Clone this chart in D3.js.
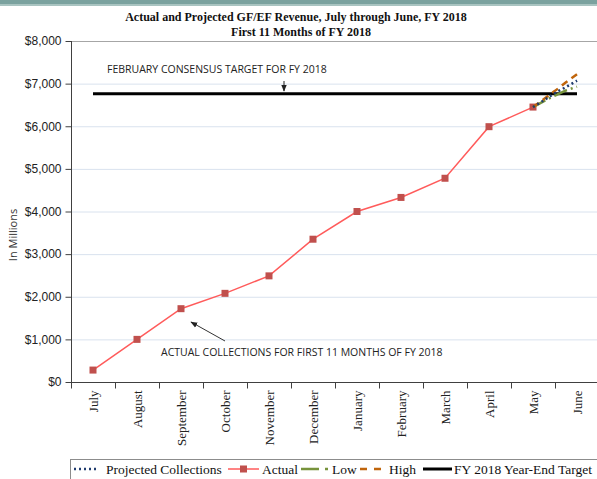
<!DOCTYPE html>
<html>
<head>
<meta charset="utf-8">
<script src="https://cdn.jsdelivr.net/npm/d3@7"></script>
<style>
  body { margin: 0; background: #fff; }
  svg { display: block; }
</style>
</head>
<body>
<svg width="597" height="479"></svg>
<script>
// months of the fiscal year
const months = ["July", "August", "September", "October", "November", "December",
                "January", "February", "March", "April", "May", "June"];

// actual collections, July - May (millions)
const actual = [280, 1000, 1720, 2080, 2490, 3350, 4000, 4330, 4780, 5990, 6450];

// projections from May to June (x as month index)
const projX = [10, 10.25, 10.5, 10.75, 11];
const projected = [6450, 6610, 6780, 6920, 7070];
const low = [6450, 6590, 6720, 6840, 6930];
const high = [6450, 6640, 6830, 7030, 7220];

// year-end target
const target = 6760;

const yTicks = [0, 1000, 2000, 3000, 4000, 5000, 6000, 7000, 8000];

const svg = d3.select("svg");

// top banner
svg.append("rect").attr("x", 0).attr("y", 0).attr("width", 597).attr("height", 4).attr("fill", "#7ba29f");
svg.append("rect").attr("x", 0).attr("y", 4).attr("width", 597).attr("height", 2).attr("fill", "#a9c4c1");

const pLeft = 71, pRight = 599, pTop = 41, pBottom = 382;

const x = d3.scaleBand().domain(months).range([pLeft, pRight]);
const xi = d3.scaleLinear().domain([0, 11]).range([pLeft + x.bandwidth() / 2, pLeft + x.bandwidth() * 11.5]);
const y = d3.scaleLinear().domain([0, 8000]).range([pBottom, pTop]);

// gridlines
svg.append("g")
    .selectAll("line")
    .data(yTicks.slice(1, -1))
  .enter().append("line")
    .attr("x1", pLeft).attr("x2", 597)
    .attr("y1", d => y(d) + 0.5).attr("y2", d => y(d) + 0.5)
    .attr("stroke", "#d9e2ee").attr("stroke-width", 1);

// plot top border
svg.append("line")
    .attr("x1", pLeft).attr("x2", 597)
    .attr("y1", pTop + 0.5).attr("y2", pTop + 0.5)
    .attr("stroke", "#a6a6a6");

// y axis
const yAxis = svg.append("g")
    .attr("transform", `translate(${pLeft + 0.5},0)`)
    .call(d3.axisLeft(y).tickValues(yTicks).tickSize(6).tickPadding(4)
        .tickFormat(d => "$" + d3.format(",")(d)));
yAxis.select(".domain").attr("stroke", "#404040").attr("d", `M0,${pTop}V${pBottom}`);
yAxis.selectAll(".tick line").attr("stroke", "#404040");
yAxis.selectAll("text")
    .attr("font-family", "'Liberation Sans', Arial, sans-serif")
    .attr("font-size", "12px")
    .attr("fill", "#222");

// x axis
const xAxis = svg.append("g")
    .attr("transform", `translate(0,${pBottom + 0.5})`)
    .call(d3.axisBottom(x).tickSize(0).tickPadding(0));
xAxis.select(".domain").attr("stroke", "#404040").attr("d", `M${pLeft},0H597`);
xAxis.selectAll(".tick line").remove();
xAxis.selectAll("text")
    .attr("font-family", "'Liberation Serif', Cambria, serif")
    .attr("font-size", "13px")
    .attr("fill", "#222")
    .attr("text-anchor", "end")
    .attr("dy", "0.35em")
    .attr("transform", "translate(0,8)rotate(-90)");

// tick marks at band boundaries
xAxis.append("g")
    .selectAll("line")
    .data(months)
  .enter().append("line")
    .attr("x1", d => x(d) + 0.5).attr("x2", d => x(d) + 0.5)
    .attr("y1", 0).attr("y2", 6)
    .attr("stroke", "#404040");

// y label
svg.append("text")
    .attr("transform", "translate(17,235)rotate(-90)")
    .attr("text-anchor", "middle")
    .attr("font-family", "'Open Sans', sans-serif")
    .attr("font-size", "11px")
    .attr("fill", "#333")
    .text("In Millions");

// title
const title = svg.append("g")
    .attr("font-family", "'Liberation Serif', Cambria, serif")
    .attr("font-weight", "bold")
    .attr("font-size", "12px")
    .attr("text-anchor", "middle")
    .attr("fill", "#111");
title.append("text").attr("x", 296).attr("y", 21)
    .text("Actual and Projected GF/EF Revenue, July through June, FY 2018");
title.append("text").attr("x", 301).attr("y", 36)
    .text("First 11 Months of FY 2018");

// target line
svg.append("path")
    .datum(months)
    .attr("fill", "none")
    .attr("stroke", "#000")
    .attr("stroke-width", 3)
    .attr("d", d3.line().x((d, i) => xi(i)).y(() => y(target)));

// actual line
svg.append("path")
    .datum(actual)
    .attr("fill", "none")
    .attr("stroke", "#ff5b5b")
    .attr("stroke-width", 1.5)
    .attr("d", d3.line().x((d, i) => xi(i)).y(d => y(d)));

svg.append("g")
    .selectAll("rect")
    .data(actual)
  .enter().append("rect")
    .attr("x", (d, i) => xi(i) - 3.5)
    .attr("y", d => y(d) - 3.5)
    .attr("width", 7).attr("height", 7)
    .attr("fill", "#c0504d");

// projections
const projLine = d3.line().x((d, i) => xi(projX[i])).y(d => y(d));
svg.append("path").datum(low)
    .attr("fill", "none").attr("stroke", "#77933c").attr("stroke-width", 2.5)
    .attr("stroke-dasharray", "14,4,2,4")
    .attr("d", projLine);
svg.append("path").datum(high)
    .attr("fill", "none").attr("stroke", "#c0650c").attr("stroke-width", 2.5)
    .attr("stroke-dasharray", "7,5")
    .attr("d", projLine);
svg.append("path").datum(projected)
    .attr("fill", "none").attr("stroke", "#1f3b6e").attr("stroke-width", 2.5)
    .attr("stroke-dasharray", "2,3")
    .attr("d", projLine);

// annotations
const defs = svg.append("defs");
defs.append("marker")
    .attr("id", "arrow")
    .attr("viewBox", "0 0 10 10")
    .attr("refX", 9).attr("refY", 5)
    .attr("markerWidth", 7).attr("markerHeight", 7)
    .attr("orient", "auto")
  .append("path")
    .attr("d", "M0,1L10,5L0,9Z")
    .attr("fill", "#222");

const note = svg.append("g")
    .attr("font-family", "'Open Sans', sans-serif")
    .attr("font-size", "10.5px")
    .attr("fill", "#222");
note.append("text").attr("x", 107).attr("y", 73)
    .text("FEBRUARY CONSENSUS TARGET FOR FY 2018");
note.append("text").attr("x", 161).attr("y", 356)
    .text("ACTUAL COLLECTIONS FOR FIRST 11 MONTHS OF FY 2018");

svg.append("line")
    .attr("x1", 284).attr("y1", 81).attr("x2", 284).attr("y2", 91)
    .attr("stroke", "#222").attr("stroke-width", 1)
    .attr("marker-end", "url(#arrow)");
svg.append("line")
    .attr("x1", 225).attr("y1", 341).attr("x2", 191).attr("y2", 322)
    .attr("stroke", "#333").attr("stroke-width", 1)
    .attr("marker-end", "url(#arrow)");

// legend
const lg = svg.append("g")
    .attr("font-family", "'Liberation Serif', Cambria, serif")
    .attr("font-size", "13.5px")
    .attr("fill", "#111");
lg.append("rect")
    .attr("x", 70.5).attr("y", 459.5)
    .attr("width", 560).attr("height", 30)
    .attr("fill", "none").attr("stroke", "#8c8c8c");

const ly = 469;
const items = [
    { name: "Projected Collections", x1: 74, x2: 98, tx: 106, color: "#1f3b6e", dash: "2,3", w: 2.5 },
    { name: "Actual", x1: 228, x2: 259, tx: 262, color: "#ff5b5b", dash: null, w: 1.5, marker: true },
    { name: "Low", x1: 301, x2: 331, tx: 332, color: "#77933c", dash: "18,6,3,6", w: 2.5 },
    { name: "High", x1: 360, x2: 387, tx: 389, color: "#c0650c", dash: "7,7", w: 2.5 },
    { name: "FY 2018 Year-End Target", x1: 423, x2: 452, tx: 454, color: "#000", dash: null, w: 3 }
];
items.forEach(d => {
    const l = lg.append("line")
        .attr("x1", d.x1).attr("x2", d.x2).attr("y1", ly).attr("y2", ly)
        .attr("stroke", d.color).attr("stroke-width", d.w);
    if (d.dash) l.attr("stroke-dasharray", d.dash);
    if (d.marker) {
        lg.append("rect")
            .attr("x", (d.x1 + d.x2) / 2 - 3.5).attr("y", ly - 3.5)
            .attr("width", 7).attr("height", 7).attr("fill", "#c0504d");
    }
    lg.append("text").attr("x", d.tx).attr("y", ly + 4.5).text(d.name);
});
</script>
</body>
</html>
